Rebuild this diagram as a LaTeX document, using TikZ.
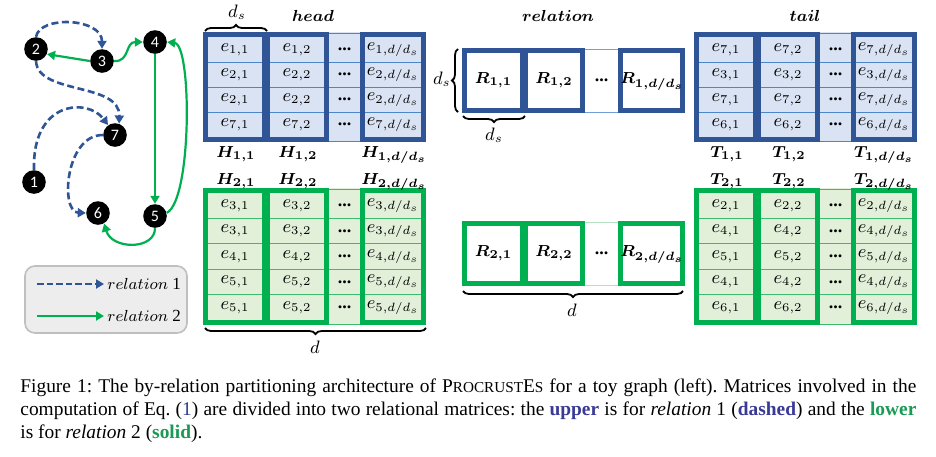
\documentclass[tikz,border=0pt]{standalone}
\usepackage[no-math]{fontspec}
\setmainfont{Liberation Serif}
\newfontfamily\calibri{Carlito}
\usetikzlibrary{arrows.meta,decorations.pathreplacing}
\definecolor{mbborder}{HTML}{2F5597}
\definecolor{mbfill}{HTML}{DAE3F3}
\definecolor{mbline}{HTML}{4A86C8}
\definecolor{mgborder}{HTML}{00B050}
\definecolor{mgfill}{HTML}{E2F0D9}
\definecolor{mgline}{HTML}{3DBB6C}
\definecolor{mbgap}{HTML}{6FA0D8}
\definecolor{mggap}{HTML}{B5E0C2}
\definecolor{capblue}{HTML}{3A3A96}
\definecolor{capgreen}{HTML}{1A9A55}
\definecolor{eqblue}{HTML}{2B3A8C}
\definecolor{legfill}{HTML}{EDEDED}
\definecolor{legdraw}{HTML}{BFBFBF}
\newcommand\fsc[1]{{\fontsize{7.6}{9}\selectfont #1}}
\tikzset{
  bfill/.style={fill=mbfill}, gfill/.style={fill=mgfill},
  bline/.style={draw=mbline, line width=0.5pt}, gline/.style={draw=mgline, line width=0.5pt},
  bgap/.style={draw=mbgap, line width=0.5pt}, ggap/.style={draw=mggap, line width=0.5pt},
  bborder/.style={draw=mbborder, line width=2.5pt}, gborder/.style={draw=mgborder, line width=2.5pt},
  cell/.style={inner sep=0pt, font=\fontsize{9}{10}\selectfont},
  sublabel/.style={inner sep=0pt, anchor=base, font=\fontsize{7.9}{10}\selectfont\boldmath},
  heading/.style={inner sep=0pt, anchor=base, font=\fontsize{8}{10}\selectfont\boldmath},
  dimlabel/.style={inner sep=0pt, font=\fontsize{9}{10}\selectfont},
  brc/.style={decorate, decoration={brace, amplitude=3pt}, line width=0.9pt},
  gnode/.style={circle, fill=black, minimum size=11.8pt, inner sep=0pt, text=white, font=\calibri\fontsize{8}{9}\selectfont},
  rel1/.style={draw=mbborder, line width=1.3pt, dash pattern=on 3.5pt off 1.8pt, -{Triangle[length=4pt,width=4.5pt]}},
  rel2/.style={draw=mgborder, line width=1.1pt, -{Triangle[length=4pt,width=4.5pt]}},
  legbox/.style={draw=legdraw, fill=legfill, line width=0.8pt, rounded corners=5pt, minimum width=81pt, minimum height=33.5pt},
  legtext/.style={inner sep=1.5pt, anchor=west, font=\fontsize{8.5}{10}\selectfont},
  captext/.style={inner sep=0pt, anchor=base west, font=\fontsize{9.7}{11.65}\selectfont\frenchspacing}
}
% #1 name, #2 x0, #3 y0, #4 nrows, #5 rowh, #6 row list, #7 prefix (b/g)
\newcommand\drawmat[7]{%
  \pgfmathsetmacro\mtop{#3+5}%
  \pgfmathsetmacro\mbot{#3+5+#4*#5}%
  \pgfmathsetmacro\mob{\mbot+5}%
  \pgfmathtruncatemacro\mlast{#4-1}%
  \fill[#7fill] (#2,#3) rectangle (#2+223,\mob);
  \foreach \k in {1,...,\mlast}{\draw[#7line] (#2,\mtop+\k*#5) -- (#2+223,\mtop+\k*#5);}
  \draw[#7line] (#2+126,#3+1) -- (#2+157,#3+1);
  \draw[#7line] (#2+126,\mob-1) -- (#2+157,\mob-1);
  \draw[#7border] (#2+2.5,#3+2.5) rectangle (#2+61.5,\mob-2.5);
  \draw[#7border] (#2+64.5,#3+2.5) rectangle (#2+123.5,\mob-2.5);
  \draw[#7border] (#2+159.5,#3+2.5) rectangle (#2+220.5,\mob-2.5);
  \foreach \r [count=\i] in {#6}{%
    \node[cell] (#1-\i-1) at (#2+32,\mtop+\i*#5-0.5*#5) {$e_{\r,1}$};
    \node[cell] (#1-\i-2) at (#2+94,\mtop+\i*#5-0.5*#5) {$e_{\r,2}$};
    \node[cell] (#1-\i-3) at (#2+141.5,\mtop+\i*#5-0.5*#5) {\textbf{...}};
    \node[cell] (#1-\i-4) at (#2+190,\mtop+\i*#5-0.5*#5) {$e_{\r,d/d_s}$};
  }%
}
% #1 name, #2 y0, #3 index, #4 prefix
\newcommand\drawrel[4]{%
  \draw[#4gap] (585,#2+1) -- (618,#2+1);
  \draw[#4gap] (585,#2+64) -- (618,#2+64);
  \draw[#4border, fill=white] (464.5,#2+2.5) rectangle (522.5,#2+62.5);
  \draw[#4border, fill=white] (525.5,#2+2.5) rectangle (582.5,#2+62.5);
  \draw[#4border, fill=white] (620.5,#2+2.5) rectangle (682.5,#2+62.5);
  \node[sublabel, anchor=center] (#1-1) at (493.5,#2+32.5) {$R_{#3,1}$};
  \node[sublabel, anchor=center] (#1-2) at (554,#2+32.5) {$R_{#3,2}$};
  \node[cell] (#1-3) at (601.5,#2+32.5) {\textbf{...}};
  \node[sublabel, anchor=center] (#1-4) at (652,#2+33.5) {$R_{#3,d/d_s}$};
}
\begin{document}
\begin{tikzpicture}[x=0.5pt, y=-0.5pt]
\useasboundingbox (0,0) rectangle (936,456);
\fill[white] (0,0) rectangle (936,456);

% ---------- toy graph ----------
\node[gnode] (n1) at (34,182) {1};
\node[gnode] (n2) at (36,49) {2};
\node[gnode] (n3) at (102,61) {3};
\node[gnode] (n4) at (155,42) {4};
\node[gnode] (n5) at (155,216) {5};
\node[gnode] (n6) at (98,213) {6};
\node[gnode] (n7) at (115,135) {7};

\draw[rel1] (n2.north) .. controls (40,15) and (102,18) .. (n3.north);
\draw[rel1] (n2.south) .. controls (38,95) and (120,82) .. (n7.70);
\draw[rel1] (n1.north) .. controls (32,100) and (88,98) .. (n7.125);
\draw[rel1] (n7.west) .. controls (65,135) and (60,212) .. (n6.west);
\draw[rel2] (n3.west) -- (n2.-25);
\draw[rel2] (n3.east) .. controls (130,62) and (125,42) .. (n4.west);
\draw[rel2] (n4.south) -- (n5.north);
\draw[rel2] (n5.15) .. controls (192,200) and (192,45) .. (n4.east);
\draw[rel2] (n5.south) .. controls (155,250) and (112,250) .. (n6.-60);

% ---------- legend ----------
\node[legbox] (legend) at (106,299.5) {};
\coordinate (l1s) at (37,284);
\coordinate (l2s) at (37,316);
\node[legtext] (l1t) at (104,284) {$relation$ 1};
\node[legtext] (l2t) at (104,316) {$relation$ 2};
\draw[rel1, dash pattern=on 3.3pt off 1.5pt] (l1s) -- (l1t.west);
\draw[rel2] (l2s) -- (l2t.west);

% ---------- head ----------
\node[heading] (headlbl) at (313,21) {$head$};
\drawmat{hb}{203}{32}{4}{25}{1,2,2,7}{b}
\drawmat{hg}{203}{188}{5}{25.4}{3,3,4,5,5}{g}
\node[sublabel] (H11) at (236,157) {$H_{1,1}$};
\node[sublabel] (H12) at (298,157) {$H_{1,2}$};
\node[sublabel] (H1d) at (394,157) {$H_{1,d/d_s}$};
\node[sublabel] (H21) at (236,184) {$H_{2,1}$};
\node[sublabel] (H22) at (298,184) {$H_{2,2}$};
\node[sublabel] (H2d) at (394,184) {$H_{2,d/d_s}$};
\coordinate (hbrA) at (205,31);
\coordinate (hbrB) at (267,31);
\draw[brc] (hbrA) -- (hbrB);
\node[dimlabel] (hds) at (237,12) {$d_s$};
\coordinate (hdA) at (426,328);
\coordinate (hdB) at (205,328);
\draw[brc] (hdA) -- (hdB);
\node[dimlabel] (hd) at (315,347) {$d$};

% ---------- relation ----------
\node[heading] (rellbl) at (558,21) {$relation$};
\drawrel{rb}{48}{1}{b}
\drawrel{rg}{221}{2}{g}
\coordinate (rvA) at (458,112);
\coordinate (rvB) at (458,49);
\draw[brc] (rvA) -- (rvB);
\node[dimlabel, anchor=east] (rds1) at (451,79) {$d_s$};
\coordinate (rhA) at (525,116);
\coordinate (rhB) at (463,116);
\draw[brc] (rhA) -- (rhB);
\node[dimlabel] (rds2) at (494,135) {$d_s$};
\coordinate (rdA) at (683,291);
\coordinate (rdB) at (463,291);
\draw[brc] (rdA) -- (rdB);
\node[dimlabel] (rd) at (572,310) {$d$};

% ---------- tail ----------
\node[heading] (taillbl) at (805,21) {$tail$};
\drawmat{tb}{694}{32}{4}{25}{7,3,7,6}{b}
\drawmat{tg}{694}{188}{5}{25.4}{2,4,5,4,6}{g}
\node[sublabel] (T11) at (727,157) {$T_{1,1}$};
\node[sublabel] (T12) at (789,157) {$T_{1,2}$};
\node[sublabel] (T1d) at (884,157) {$T_{1,d/d_s}$};
\node[sublabel] (T21) at (727,184) {$T_{2,1}$};
\node[sublabel] (T22) at (789,184) {$T_{2,2}$};
\node[sublabel] (T2d) at (884,184) {$T_{2,d/d_s}$};

% ---------- caption ----------
\node[captext] (cap1) at (20,392) {\makebox[448pt][s]{Figure 1: The by-relation partitioning architecture of P\fsc{ROCRUST}E\fsc{S} for a toy graph (left). Matrices involved in the}};
\node[captext] (cap2) at (20,415) {\makebox[448pt][s]{computation of Eq. ({\color{eqblue}1}) are divided into two relational matrices: the \textbf{\color{capblue}upper} is for \textit{relation} 1 (\textbf{\color{capblue}dashed}) and the \textbf{\color{capgreen}lower}}};
\node[captext] (cap3) at (20,438) {is for \textit{relation} 2 (\textbf{\color{capgreen}solid}).};
\end{tikzpicture}
\end{document}
